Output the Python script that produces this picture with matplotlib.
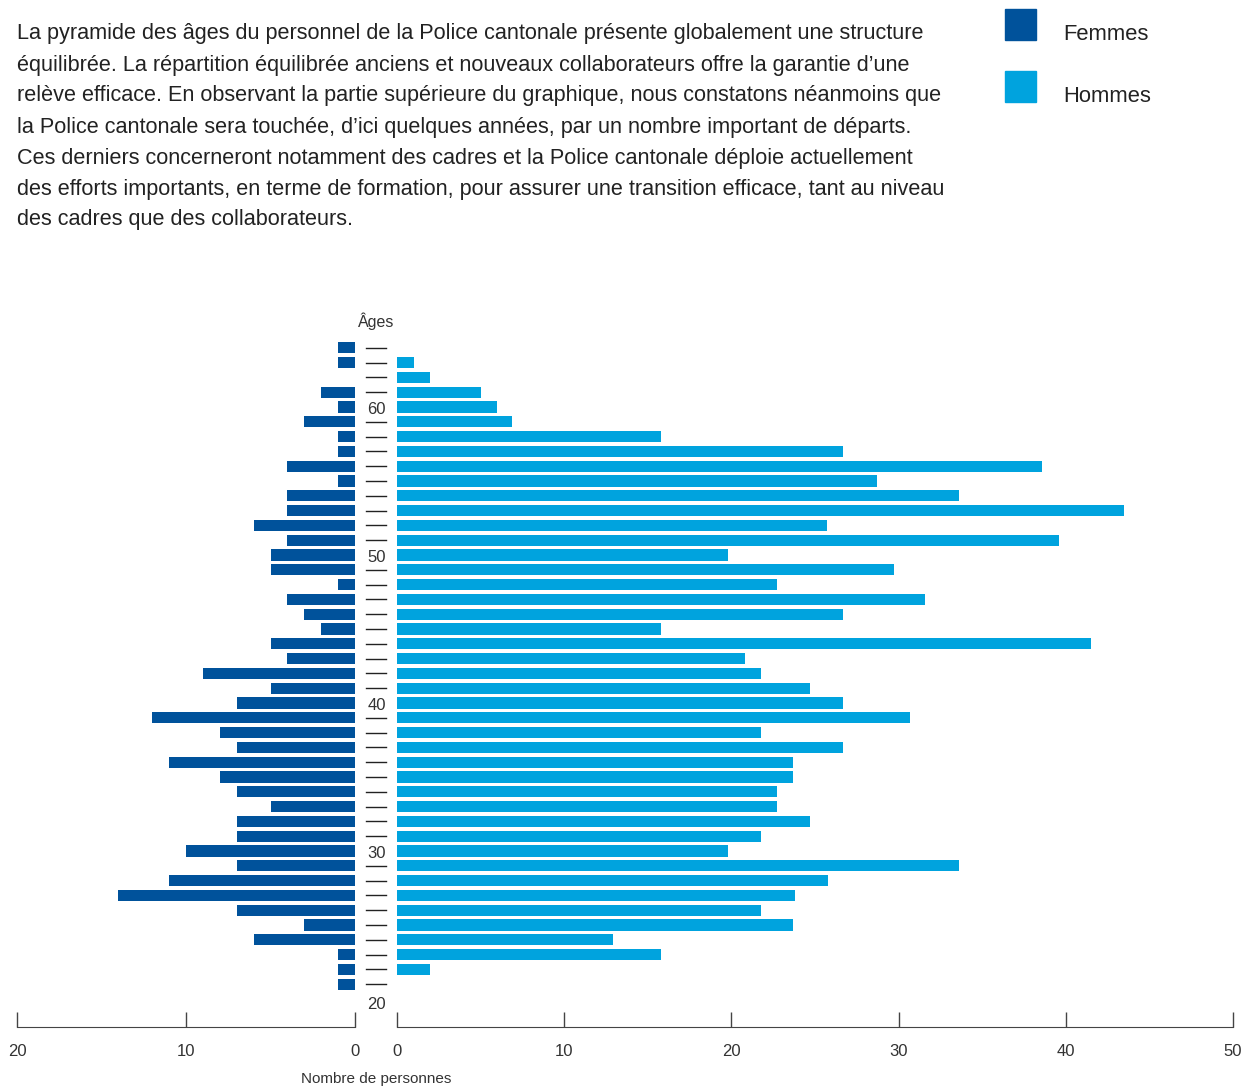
import numpy as np
import matplotlib.pyplot as plt

plt.rcParams['font.family'] = ['Liberation Sans', 'DejaVu Sans']

# ages 64 down to 21
ages = list(range(64, 20, -1))
femmes = [1, 1, 0, 2, 1, 3, 1, 1, 4, 1, 4, 4, 6, 4, 5, 5, 1, 4, 3, 2, 5, 4,
          9, 5, 7, 12, 8, 7, 11, 8, 7, 5, 7, 7, 10, 7, 11, 14, 7, 3, 6, 1, 1, 1]
hommes = [0, 1.0, 2.0, 5.0, 6.0, 6.9, 15.8, 26.7, 38.6, 28.7, 33.6, 43.5, 25.7, 39.6,
          19.8, 29.7, 22.7, 31.6, 26.7, 15.8, 41.5, 20.8, 21.8, 24.7, 26.7, 30.7,
          21.8, 26.7, 23.7, 23.7, 22.7, 22.7, 24.7, 21.8, 19.8, 33.6, 25.8, 23.8,
          21.8, 23.7, 12.9, 15.8, 2.0, 0]
age_labels = [20, 30, 40, 50, 60]

texte = [
    "La pyramide des âges du personnel de la Police cantonale présente globalement une structure",
    "équilibrée. La répartition équilibrée anciens et nouveaux collaborateurs offre la garantie d’une",
    "relève efficace. En observant la partie supérieure du graphique, nous constatons néanmoins que",
    "la Police cantonale sera touchée, d’ici quelques années, par un nombre important de départs.",
    "Ces derniers concerneront notamment des cadres et la Police cantonale déploie actuellement",
    "des efforts importants, en terme de formation, pour assurer une transition efficace, tant au niveau",
    "des cadres que des collaborateurs.",
]

c_f = '#00529b'
c_h = '#00a3de'
grey = '#333333'

W, H = 1243, 1090
fig = plt.figure(figsize=(W / 100, H / 100), dpi=100)

bottom = 1 - 1027 / H
height = (1027 - 332) / H
ylim = (18.11, 65.07)

# femmes (left)
axf = fig.add_axes([17 / W, bottom, 338 / W, height])
axf.barh(ages, femmes, height=0.75, color=c_f)
axf.set_xlim(20, 0)
axf.set_ylim(*ylim)
axf.set_xticks([20, 10, 0])

# hommes (right)
axh = fig.add_axes([397 / W, bottom, 836 / W, height])
axh.barh(ages, hommes, height=0.75, color=c_h)
axh.set_xlim(0, 50)
axh.set_ylim(*ylim)
axh.set_xticks(range(0, 51, 10))

for ax in (axf, axh):
    for s in ('top', 'left', 'right'):
        ax.spines[s].set_visible(False)
    ax.spines['bottom'].set_color('#444444')
    ax.set_yticks([])
    ax.tick_params(axis='x', direction='in', length=11, width=1, color='#444444',
                   pad=12, labelsize=12, labelcolor=grey)
    ax.patch.set_visible(False)

# middle column with ages
axm = fig.add_axes([358 / W, bottom, 37 / W, height])
axm.set_xlim(0, 37)
axm.set_ylim(*ylim)
axm.axis('off')
for a in ages:
    if a in age_labels:
        axm.text(18.5, a - 0.15, str(a), ha='center', va='center', fontsize=12, color=grey)
    else:
        axm.plot([8, 28], [a, a], color='#222222', lw=1)
axm.text(18.5, 19.6, "20", ha='center', va='center', fontsize=12, color=grey)
axm.text(18.5, 65.8, "Âges", ha='center', va='center', fontsize=11.5, color=grey)

fig.text(376 / W, 1 - 1079 / H, "Nombre de personnes", ha='center', va='center',
         fontsize=11, color=grey)

# paragraph
for i, line in enumerate(texte):
    fig.text(17 / W, 1 - (34 + 31 * i) / H, line, ha='left', va='center',
             fontsize=15.6, color='#222222')

# legend
for j, (lab, col) in enumerate([("Femmes", c_f), ("Hommes", c_h)]):
    y0 = 9 + 62 * j
    fig.patches.append(plt.Rectangle((1005 / W, 1 - (y0 + 31) / H), 31 / W, 31 / H,
                                     color=col, transform=fig.transFigure))
    fig.text(1063 / W, 1 - (y0 + 26) / H, lab, ha='left', va='center',
             fontsize=15.8, color='#222222')

fig.savefig('out.png', dpi=100)
